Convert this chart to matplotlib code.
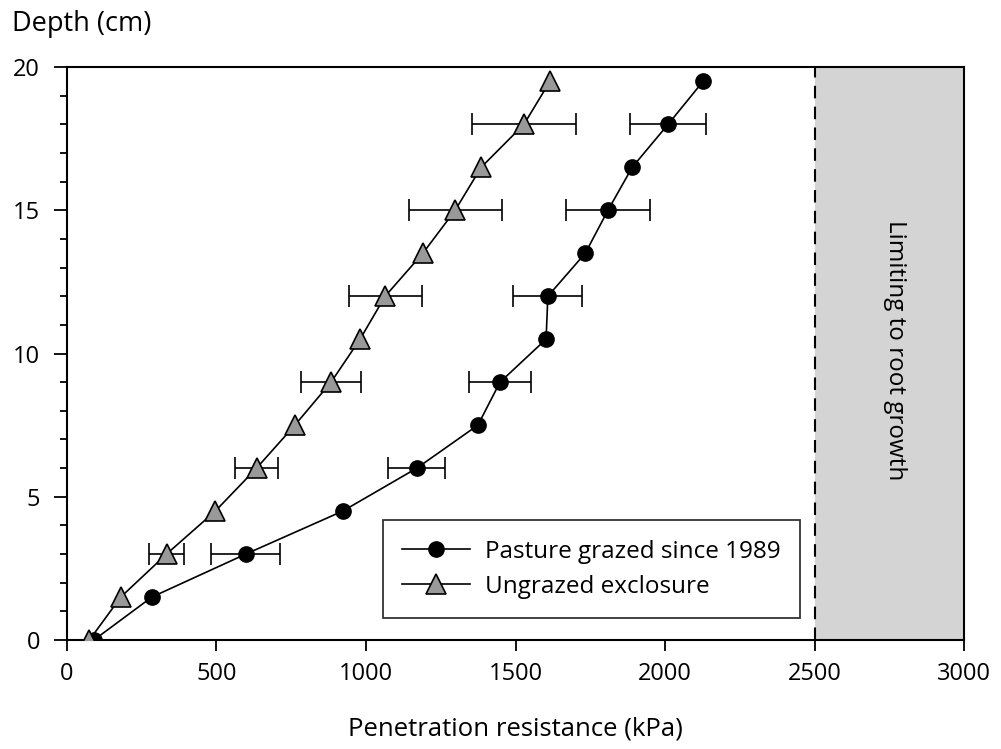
import matplotlib
matplotlib.use("Agg")
import matplotlib.pyplot as plt
from matplotlib.ticker import MultipleLocator

plt.rcParams['font.family'] = ['Open Sans', 'DejaVu Sans']

depth = [0, 1.5, 3, 4.5, 6, 7.5, 9, 10.5, 12, 13.5, 15, 16.5, 18, 19.5]
grazed = [90, 284, 598, 922, 1170, 1374, 1448, 1602, 1608, 1733, 1809, 1890, 2010, 2127]
ungrazed = [75, 180, 333, 496, 634, 762, 883, 980, 1064, 1190, 1298, 1385, 1528, 1615]

err_depth = [3, 6, 9, 12, 15, 18]
grazed_err_x = [598, 1170, 1448, 1608, 1809, 2010]
grazed_err = [115, 95, 105, 115, 139, 128]
ungrazed_err_x = [333, 634, 883, 1064, 1298, 1528]
ungrazed_err = [59, 73, 100, 122, 155, 175]

labels = ["Pasture grazed since 1989", "Ungrazed exclosure"]
limit_x = 2500

fig = plt.figure(figsize=(10.01, 7.49), dpi=100)
ax = fig.add_axes([0.0669, 0.1455, 0.8963, 0.765])

ax.axvspan(limit_x, 3000, color='#d4d4d4', zorder=0, lw=0)
ax.axvline(limit_x, color='black', ls=(0, (6, 4)), lw=1.5, zorder=1)
ax.text(2770, 10.1, "Limiting to root growth", rotation=-90, ha='center', va='center', fontsize=17.5)

ax.errorbar(grazed_err_x, err_depth, xerr=grazed_err, fmt='none', ecolor='black',
            elinewidth=1.2, capsize=8, capthick=1.2, zorder=2)
ax.errorbar(ungrazed_err_x, err_depth, xerr=ungrazed_err, fmt='none', ecolor='black',
            elinewidth=1.2, capsize=8, capthick=1.2, zorder=2)

ax.plot(grazed, depth, '-o', color='black', mfc='black', mec='black', ms=11, lw=1.2,
        label=labels[0], zorder=3)
ax.plot(ungrazed, depth, '-^', color='black', mfc='#999999', mec='black', ms=14.5, mew=1.2,
        lw=1.2, label=labels[1], zorder=3)

ax.set_xlim(0, 3000)
ax.set_ylim(0, 20)
ax.xaxis.set_major_locator(MultipleLocator(500))
ax.yaxis.set_major_locator(MultipleLocator(5))
ax.yaxis.set_minor_locator(MultipleLocator(1))
ax.tick_params(axis='x', which='major', direction='out', length=8, width=1.3, labelsize=17, pad=8)
ax.tick_params(axis='y', which='major', direction='out', length=9.5, width=1.3, labelsize=17, pad=10)
ax.tick_params(axis='y', which='minor', direction='out', length=5, width=1.3)
for s in ax.spines.values():
    s.set_linewidth(1.5)

fig.text(0.012, 0.968, "Depth (cm)", ha='left', va='center', fontsize=19.5)
ax.set_xlabel("Penetration resistance (kPa)", fontsize=18.5, labelpad=22)

leg = ax.legend(loc='lower left', bbox_to_anchor=(0.352, 0.038), borderaxespad=0,
                fontsize=17.5, frameon=True, fancybox=False, edgecolor='black',
                handlelength=2.8, handletextpad=0.6, borderpad=0.8, labelspacing=0.45)
leg.get_frame().set_linewidth(1.3)

fig.savefig("out.png", dpi=100, facecolor='white')
